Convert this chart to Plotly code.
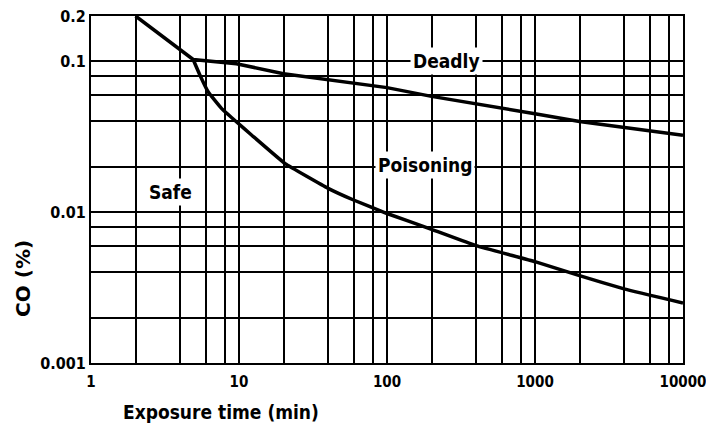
import numpy as np
import plotly.graph_objects as go

# ---- data ----
deadly_time = [2, 3.42, 4.9, 9.6, 20, 100, 200, 1000, 2000, 10000]
deadly_co = [0.2, 0.1355, 0.103, 0.0965, 0.0829, 0.067, 0.0586, 0.045, 0.040, 0.0324]

poison_time = [4.9, 5.45, 6.2, 7.64, 9.64, 12.2, 20.5, 40, 60, 100, 200, 400, 1000, 2000, 4000, 10000]
poison_co = [0.103, 0.081, 0.0626, 0.0486, 0.0396, 0.0324, 0.021, 0.0144, 0.012, 0.0098,
             0.0077, 0.0060, 0.0047, 0.0038, 0.0031, 0.0025]

x_grid = [1, 2, 4, 6, 8, 10, 20, 40, 60, 80, 100, 200, 400, 600, 800,
          1000, 2000, 4000, 6000, 8000, 10000]
x_labels = {1: "1", 10: "10", 100: "100", 1000: "1000", 10000: "10000"}

y_grid = [0.001, 0.002, 0.004, 0.006, 0.008, 0.01, 0.02, 0.04, 0.06, 0.08, 0.1, 0.2]
y_labels = {0.001: "0.001", 0.01: "0.01", 0.1: "0.1", 0.2: "0.2"}

region_names = ["Deadly", "Poisoning", "Safe"]
region_x = [254, 181, 3.42]
region_y = [0.1, 0.0205, 0.0136]

FONT = "DejaVu Sans Condensed"

fig = go.Figure()
fig.add_trace(go.Scatter(x=deadly_time, y=deadly_co, mode="lines",
                         line=dict(color="black", width=3.5), hoverinfo="skip"))
fig.add_trace(go.Scatter(x=poison_time, y=poison_co, mode="lines",
                         line=dict(color="black", width=3.5, shape="spline", smoothing=0.3),
                         hoverinfo="skip"))

for name, xv, yv in zip(region_names, region_x, region_y):
    fig.add_annotation(x=np.log10(xv), y=np.log10(yv), text=name, showarrow=False,
                       bgcolor="white", borderpad=2,
                       font=dict(family=FONT, size=19, color="black", weight="bold"))

fig.add_annotation(xref="paper", yref="paper", x=0.2196, y=-0.141, text="Exposure time (min)",
                   showarrow=False, xanchor="center", yanchor="middle",
                   font=dict(family=FONT, size=19, color="black", weight="bold"))
fig.add_annotation(xref="paper", yref="paper", x=-0.115, y=0.245, text="CO (%)",
                   showarrow=False, textangle=-90, xanchor="center", yanchor="middle",
                   font=dict(family="DejaVu Sans", size=20, color="black", weight="bold"))

fig.update_xaxes(type="log", range=[0, 4.0001], tickvals=x_grid,
                 ticktext=[x_labels.get(v, "") for v in x_grid],
                 showgrid=True, gridcolor="black", gridwidth=2,
                 showline=True, linecolor="black", linewidth=2, mirror=True,
                 ticks="", zeroline=False, ticklabeloverflow="allow", automargin=False,
                 ticklabelstandoff=4,
                 tickfont=dict(family=FONT, size=15, color="black", weight="bold"))
fig.update_yaxes(type="log", range=[-3, np.log10(0.2)], tickvals=y_grid,
                 ticktext=[y_labels.get(v, "") for v in y_grid],
                 showgrid=True, gridcolor="black", gridwidth=2,
                 showline=True, linecolor="black", linewidth=2, mirror=True,
                 ticks="", zeroline=False, automargin=False,
                 tickfont=dict(family=FONT, size=16, color="black", weight="bold"))

fig.update_layout(width=706, height=426, margin=dict(l=91, r=23, t=16, b=63),
                  paper_bgcolor="white", plot_bgcolor="white", showlegend=False)

fig.write_html("out.html", config={"displayModeBar": False},
               post_script="document.body.style.margin='0';document.body.style.overflow='hidden';")
